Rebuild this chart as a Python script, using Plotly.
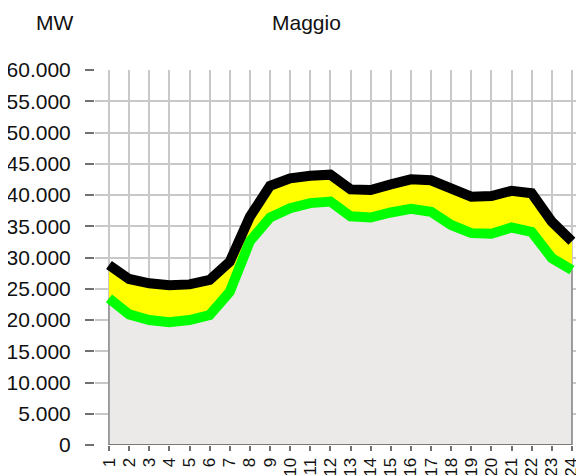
import plotly.graph_objects as go

# Ore del giorno
hours = list(range(1, 25))

# Valori (MW): linea verde (limite area grigia) e linea nera (limite area gialla)
green_line = [23450, 20900, 20000, 19650, 20000, 20800, 24500, 32600, 36400, 37900, 38700, 38950,
              36600, 36400, 37200, 37800, 37300, 35200, 33900, 33800, 34800, 34100, 29900, 28000]
black_line = [28800, 26560, 25870, 25550, 25700, 26400, 29330, 36530, 41470, 42670, 43070, 43250,
              40900, 40800, 41700, 42500, 42350, 41070, 39730, 39840, 40670, 40270, 35730, 32600]

y_ticks = list(range(0, 60001, 5000))

fig = go.Figure()

# area grigia fino alla linea verde
fig.add_trace(go.Scatter(x=hours, y=green_line, mode='lines', fill='tozeroy',
                         fillcolor='#ECE9E9', line=dict(width=0, color='#ECE9E9'),
                         hoverinfo='skip', showlegend=False))
# area gialla tra linea verde e linea nera
fig.add_trace(go.Scatter(x=hours, y=black_line, mode='lines', fill='tonexty',
                         fillcolor='#FFFF00', line=dict(width=0, color='#FFFF00'),
                         hoverinfo='skip', showlegend=False))

# bordi dell'area grigia e asse x
edge = dict(color='#8A8A8A', width=1.5)
fig.add_trace(go.Scatter(x=[hours[0], hours[0]], y=[0, green_line[0]], mode='lines',
                         line=edge, showlegend=False, hoverinfo='skip'))
fig.add_trace(go.Scatter(x=[hours[-1], hours[-1]], y=[0, green_line[-1]], mode='lines',
                         line=edge, showlegend=False, hoverinfo='skip'))
fig.add_trace(go.Scatter(x=[hours[0], hours[-1]], y=[0, 0], mode='lines',
                         line=dict(color='#7A7A7A', width=2), showlegend=False, hoverinfo='skip'))

# linee spesse
fig.add_trace(go.Scatter(x=hours, y=green_line, mode='lines', line=dict(color='#00FF00', width=10),
                         hoverinfo='skip', showlegend=False))
fig.add_trace(go.Scatter(x=hours, y=black_line, mode='lines', line=dict(color='#000000', width=10),
                         hoverinfo='skip', showlegend=False))

fig.update_xaxes(range=[0.305, 24.6], tickvals=hours, ticktext=[str(h) for h in hours],
                 tickangle=-90, ticks='outside', ticklen=5, tickwidth=1.5, tickcolor='#707070',
                 showgrid=True, gridcolor='#C8C8C8', gridwidth=2, showline=False, zeroline=False,
                 automargin=False, tickfont=dict(size=17, color='#111111'))
fig.update_yaxes(range=[0, 60000], tickvals=y_ticks, tickformat=',d',
                 ticks='outside', ticklen=9, tickwidth=2, tickcolor='#707070',
                 showgrid=True, gridcolor='#C8C8C8', gridwidth=2, showline=False, zeroline=False,
                 automargin=False, ticklabelstandoff=10, tickfont=dict(size=21, color='#111111'))

fig.add_annotation(text='MW', x=(54 - 95) / 489, y=(445 - 22) / 375, xref='paper', yref='paper',
                   showarrow=False, xanchor='center', yanchor='middle',
                   font=dict(size=21, color='#111111'))
fig.add_annotation(text='Maggio', x=(306 - 95) / 489, y=(445 - 22) / 375, xref='paper', yref='paper',
                   showarrow=False, xanchor='center', yanchor='middle',
                   font=dict(size=21, color='#111111'))

# la pagina aggiunge 8px di margine: la figura occupa il resto della finestra
fig.update_layout(width=576, height=467, margin=dict(l=87, r=0, t=62, b=30),
                  paper_bgcolor='white', plot_bgcolor='white', separators=',.',
                  font=dict(family='Liberation Sans, Arial, sans-serif'))

fig.write_html("out.html")
